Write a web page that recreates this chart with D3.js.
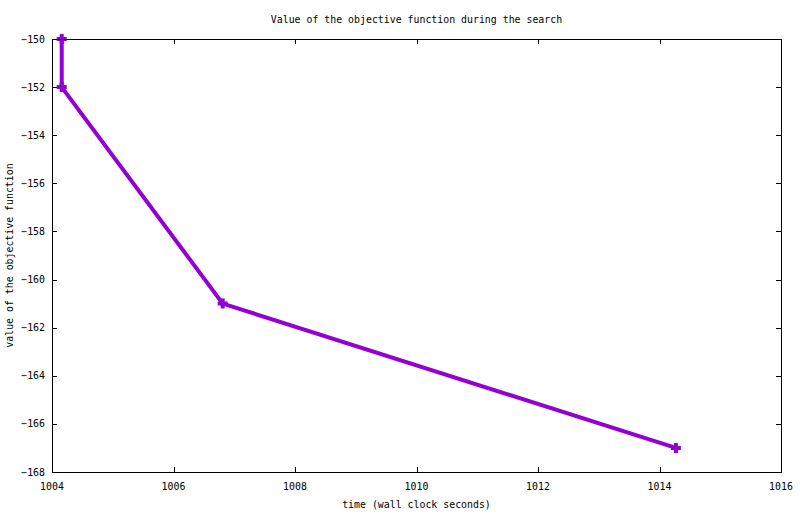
<!DOCTYPE html>
<html lang="en">
<head>
  <meta charset="UTF-8">
  <script src="https://d3js.org/d3.v7.min.js"></script>
  <title>Value of the objective function during the search</title>
  <style>
    body { margin: 0; background: #fff; }
    svg text { font-family: 'DejaVu Sans Mono', 'Liberation Mono', monospace; font-size: 9.9px; fill: #000; }
  </style>
</head>
<body>
  <svg width="800" height="514"></svg>
  <script>
    // data
    const times = [1004.16, 1004.16, 1006.81, 1014.27];
    const objective = [-150, -152, -161, -167];
    const xTicks = [1004, 1006, 1008, 1010, 1012, 1014, 1016];
    const yTicks = [-150, -152, -154, -156, -158, -160, -162, -164, -166, -168];

    const svg = d3.select("svg");
    const plotLeft = 52, plotRight = 781, plotTop = 39, plotBottom = 472;

    const x = d3.scaleLinear().domain([1004, 1016]).range([plotLeft, plotRight]);
    const y = d3.scaleLinear().domain([-168, -150]).range([plotBottom, plotTop]);

    svg.append("rect").attr("width", 800).attr("height", 514).attr("fill", "#fff");

    // ticks on all four sides, pointing inwards
    const tickLen = 5;
    const g = svg.append("g").attr("stroke", "#000").attr("stroke-width", 1);
    xTicks.forEach(t => {
      const px = Math.round(x(t)) + 0.5;
      g.append("line").attr("x1", px).attr("x2", px).attr("y1", plotBottom).attr("y2", plotBottom - tickLen);
      g.append("line").attr("x1", px).attr("x2", px).attr("y1", plotTop).attr("y2", plotTop + tickLen);
    });
    yTicks.forEach(t => {
      const py = Math.round(y(t)) + 0.5;
      g.append("line").attr("x1", plotLeft).attr("x2", plotLeft + tickLen).attr("y1", py).attr("y2", py);
      g.append("line").attr("x1", plotRight).attr("x2", plotRight - tickLen).attr("y1", py).attr("y2", py);
    });

    // tick labels
    svg.selectAll(".xl").data(xTicks).enter().append("text")
      .attr("x", d => x(d)).attr("y", 490)
      .attr("text-anchor", "middle")
      .text(d => d);
    svg.selectAll(".yl").data(yTicks).enter().append("text")
      .attr("x", 45).attr("y", d => y(d) + 3.5)
      .attr("text-anchor", "end")
      .text(d => String(d).replace("-", "\u2212"));

    // series
    const pts = times.map((t, i) => [t, objective[i]]);
    svg.append("path")
      .datum(pts)
      .attr("fill", "none")
      .attr("stroke", "#9400d3")
      .attr("stroke-width", 4)
      .attr("stroke-linejoin", "miter")
      .attr("d", d3.line().x(d => x(d[0])).y(d => y(d[1])));

    svg.selectAll(".pt").data(pts).enter().append("path")
      .attr("fill", "none")
      .attr("stroke", "#9400d3")
      .attr("stroke-width", 4)
      .attr("d", d => {
        const px = x(d[0]), py = y(d[1]), s = 5;
        return `M${px - s},${py}H${px + s}M${px},${py - s}V${py + s}`;
      });

    // frame
    svg.append("rect")
      .attr("x", plotLeft + 0.5).attr("y", plotTop + 0.5)
      .attr("width", plotRight - plotLeft).attr("height", plotBottom - plotTop)
      .attr("fill", "none").attr("stroke", "#000").attr("stroke-width", 1);

    // titles
    svg.append("text").attr("x", (plotLeft + plotRight) / 2).attr("y", 23)
      .attr("text-anchor", "middle")
      .text("Value of the objective function during the search");
    svg.append("text").attr("x", (plotLeft + plotRight) / 2).attr("y", 508)
      .attr("text-anchor", "middle")
      .text("time (wall clock seconds)");
    svg.append("text")
      .attr("transform", `translate(13,${(plotTop + plotBottom) / 2}) rotate(-90)`)
      .attr("text-anchor", "middle")
      .text("value of the objective function");
  </script>
</body>
</html>
